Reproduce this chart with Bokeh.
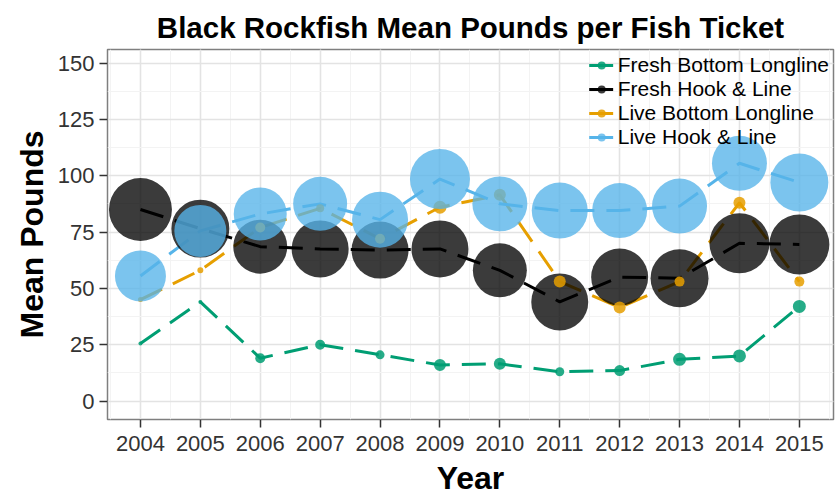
from bokeh.plotting import figure
from bokeh.models import Range1d, SingleIntervalTicker, Legend, LegendItem, ColumnDataSource
from bokeh.embed import file_html
from bokeh.resources import INLINE

# ---- data ----
years = [2004, 2005, 2006, 2007, 2008, 2009, 2010, 2011, 2012, 2013, 2014, 2015]
series_names = ["Fresh Bottom Longline", "Fresh Hook & Line", "Live Bottom Longline", "Live Hook & Line"]
fresh_bottom_longline = [25.5, 44, 19, 25, 20.5, 16, 16.5, 13, 13.5, 18.5, 20, 42]
fresh_hook_line = [85, 76.5, 68.5, 67.5, 67, 67.5, 58, 44, 55, 54.5, 70, 69.5]
live_bottom_longline = [45, 58, 77, 85.5, 72, 86, 91.5, 53, 41.5, 53, 88, 53]
live_hook_line = [55.5, 75.5, 83, 87.5, 80.5, 98.5, 87.5, 84.5, 84.5, 86.5, 105.5, 97]
# relative weight (size aesthetic) of each point
fresh_bottom_longline_w = [4, 4, 10, 10, 9, 12, 12, 9, 11, 13, 13, 13]
fresh_hook_line_w = [63, 58, 54, 57, 57, 57, 54, 57, 57, 58, 60, 60]
live_bottom_longline_w = [5, 6, 10, 8, 10, 13, 12, 12, 12, 10, 12, 10]
live_hook_line_w = [51, 52, 53, 54, 56, 60, 55, 56, 55, 55, 55, 58]

colors = ["#009E73", "#000000", "#E69F00", "#56B4E9"]
alphas = [0.85, 0.77, 0.85, 0.78]
values = [fresh_bottom_longline, fresh_hook_line, live_bottom_longline, live_hook_line]
weights = [fresh_bottom_longline_w, fresh_hook_line_w, live_bottom_longline_w, live_hook_line_w]
SIZE_SCALE = 1.0

FONT = "Liberation Sans"

p = figure(width=836, height=498, output_backend="svg", toolbar_location=None,
           x_range=Range1d(2003.45, 2015.57), y_range=Range1d(-8.2, 156),
           min_border_left=107, min_border_top=49, min_border_right=3, min_border_bottom=76,
           background_fill_color="white", border_fill_color="white")

p.title.text = "Black Rockfish Mean Pounds per Fish Ticket"
p.title.text_font = FONT
p.title.text_font_style = "bold"
p.title.text_font_size = "29.5px"
p.title.align = "center"
p.title.text_color = "#000000"
p.title.standoff = 11

p.outline_line_color = "#7f7f7f"
p.outline_line_width = 1.5

xt = SingleIntervalTicker(interval=1, num_minor_ticks=2)
yt = SingleIntervalTicker(interval=25, num_minor_ticks=2)
p.xaxis.ticker = xt
p.yaxis.ticker = yt
p.xgrid.ticker = xt
p.ygrid.ticker = yt

for g in (p.xgrid, p.ygrid):
    g.grid_line_color = "#e3e3e3"
    g.grid_line_width = 1.6
    g.minor_grid_line_color = "#f3f3f3"
    g.minor_grid_line_width = 1

for ax in (p.xaxis, p.yaxis):
    ax.axis_line_color = None
    ax.major_tick_line_color = "#333333"
    ax.major_tick_line_width = 1.5
    ax.major_tick_out = 8
    ax.major_tick_in = 0
    ax.minor_tick_line_color = None
    ax.major_label_text_font = FONT
    ax.major_label_text_font_size = "22px"
    ax.major_label_text_color = "#333333"
    ax.axis_label_text_font = FONT
    ax.axis_label_text_font_style = "bold"
    ax.axis_label_text_font_size = "32px"
    ax.axis_label_text_color = "#000000"

p.xaxis.major_label_standoff = 8
p.yaxis.major_label_standoff = 5
p.xaxis.axis_label_standoff = 6
p.yaxis.axis_label_standoff = 5

p.xaxis.axis_label = "Year"
p.yaxis.axis_label = "Mean Pounds"

line_rs = []
for vals, c in zip(values, colors):
    src = ColumnDataSource(dict(year=years, val=vals))
    r = p.line("year", "val", source=src, line_color=c, line_width=3, line_dash="24 12")
    line_rs.append(r)

pt_rs = []
for vals, w, c, a in zip(values, weights, colors, alphas):
    src = ColumnDataSource(dict(year=years, val=vals, size=[x * SIZE_SCALE for x in w]))
    r = p.scatter("year", "val", size="size", source=src, fill_color=c, fill_alpha=a,
                  line_color=None)
    pt_rs.append(r)

items = [LegendItem(label=n, renderers=[lr, pr]) for n, lr, pr in zip(series_names, line_rs, pt_rs)]
legend = Legend(items=items, location="top_right")
legend.label_text_font = FONT
legend.label_text_font_size = "21px"
legend.label_text_color = "#000000"
legend.label_height = 20
legend.glyph_width = 25
legend.glyph_height = 20
legend.spacing = 0
legend.padding = 1
legend.margin = 4
legend.label_standoff = 4
legend.border_line_color = None
legend.background_fill_alpha = 0
p.add_layout(legend)

open("out.html", "w").write(file_html(p, INLINE))
